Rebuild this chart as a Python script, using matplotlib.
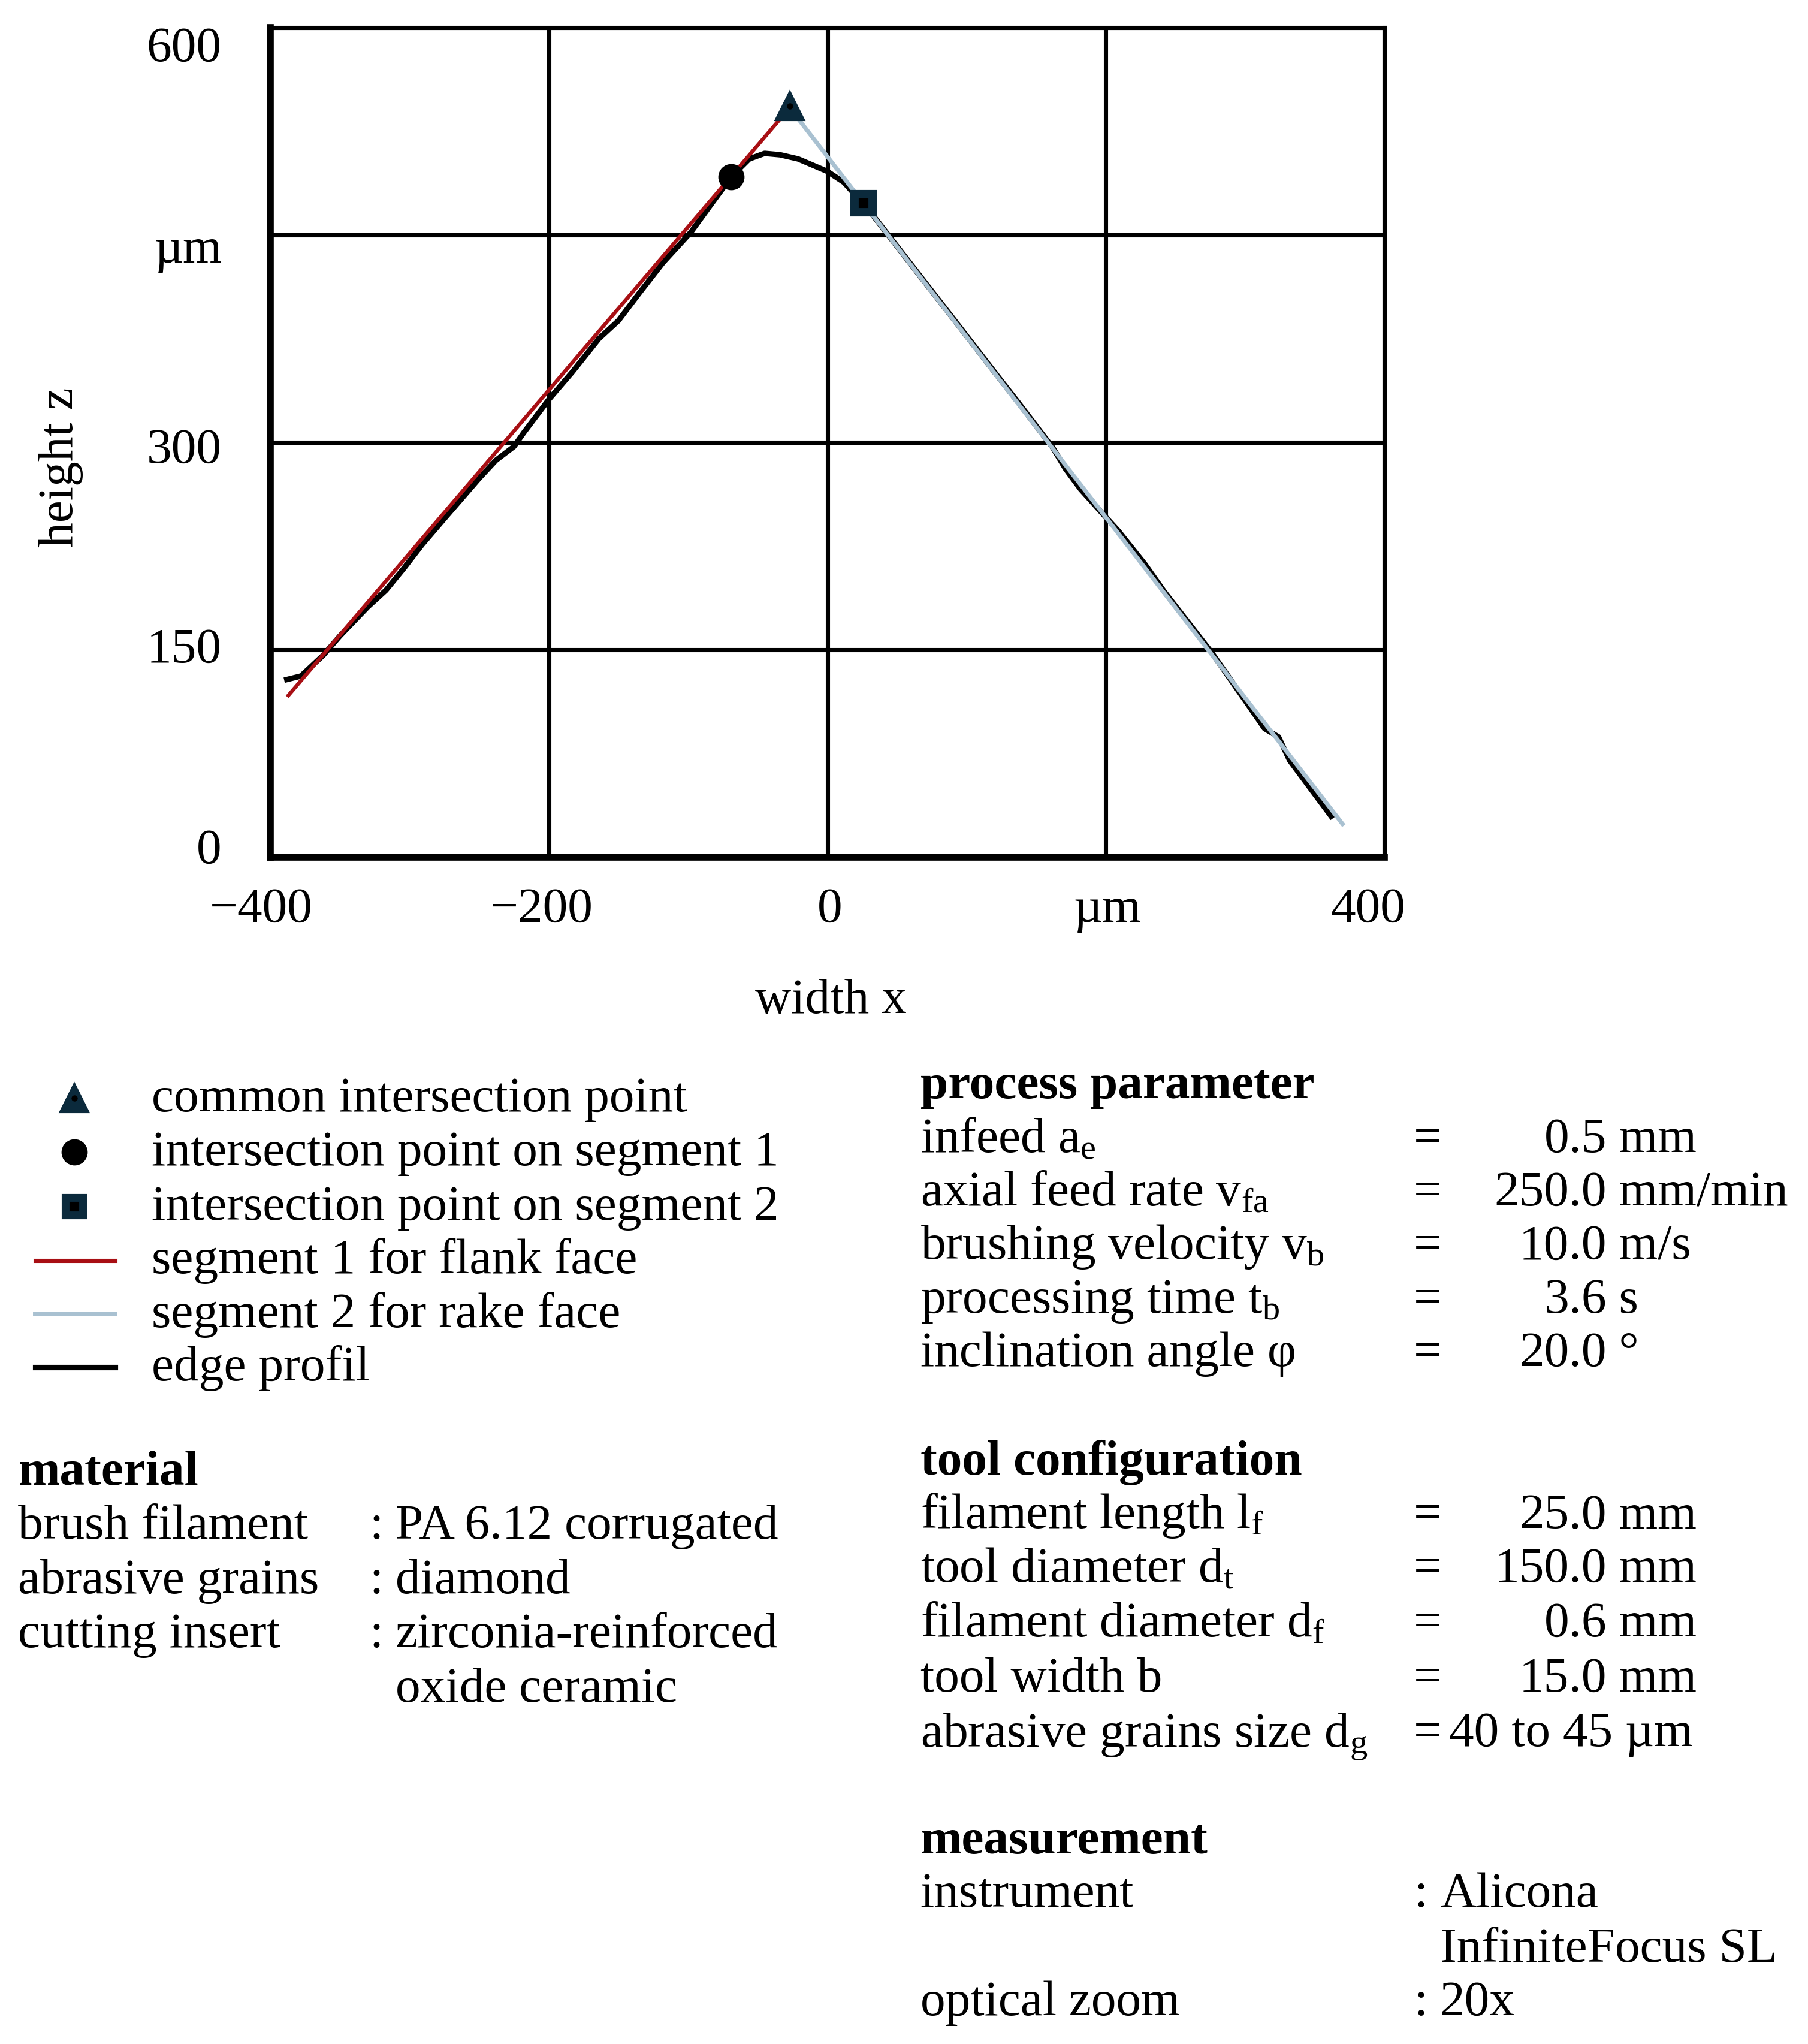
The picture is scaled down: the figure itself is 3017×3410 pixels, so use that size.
import matplotlib
matplotlib.use('Agg')
import matplotlib.pyplot as plt
from matplotlib.lines import Line2D
from matplotlib.transforms import ScaledTranslation

plt.rcParams['font.family'] = ['Liberation Serif', 'DejaVu Serif']
plt.rcParams['mathtext.fontset'] = 'custom'
plt.rcParams['mathtext.rm'] = 'Liberation Serif'
plt.rcParams['mathtext.it'] = 'Liberation Serif:italic'
plt.rcParams['mathtext.bf'] = 'Liberation Serif:bold'

# --- data ---
# edge profile (black), width x / height z in um
profile_x = [-390, -378, -362, -350, -330, -317, -304, -291, -274, -250, -238, -225,
             -218, -200, -183, -164, -150, -135, -118, -98, -85, -77, -69, -56, -45,
             -34, -21, 0, 12, 20, 26, 53, 90, 123, 137, 162, 171, 182, 199, 209, 228,
             242, 276, 301, 314, 324, 332, 346, 363]
profile_z = [128, 131, 146, 160, 181, 193, 209, 226, 246, 274, 287, 297,
             307, 331, 351, 375, 388, 408, 430, 452, 470, 481, 492, 505, 509,
             508, 505, 496, 488, 479, 473, 438, 390, 347, 329, 296, 281, 266, 247, 236, 212,
             192, 148, 112, 93, 87, 70, 51, 28]

# fitted segments
seg1_x = [-387, -27]
seg1_z = [117, 542]
seg2_x = [-27, 370]
seg2_z = [542, 24]

# intersection points
common_x, common_z = -27, 543
seg1_pt_x, seg1_pt_z = -69, 492
seg2_pt_x, seg2_pt_z = 26, 473

x_ticks = [-400, -200, 0, 200, 400]
x_ticklabels = ['\u2212400', '\u2212200', '0', '\u00b5m', '400']
y_ticks = [0, 150, 300, 450, 600]
y_ticklabels = ['0', '150', '300', '\u00b5m', '600']

legend_labels = ['common intersection point', 'intersection point on segment 1',
                 'intersection point on segment 2', 'segment 1 for flank face',
                 'segment 2 for rake face', 'edge profil']

material_names = ['brush filament', 'abrasive grains', 'cutting insert', '']
material_values = ['PA 6.12 corrugated', 'diamond', 'zirconia-reinforced', 'oxide ceramic']

process_names = [r'infeed a$_\mathregular{e}$', r'axial feed rate v$_\mathregular{fa}$',
                 r'brushing velocity v$_\mathregular{b}$', r'processing time t$_\mathregular{b}$',
                 'inclination angle \u03c6']
process_values = ['0.5 mm', '250.0 mm/min', '10.0 m/s', '3.6 s', '20.0 \u00b0']

tool_names = [r'filament length l$_\mathregular{f}$', r'tool diameter d$_\mathregular{t}$',
              r'filament diameter d$_\mathregular{f}$', 'tool width b',
              r'abrasive grains size d$_\mathregular{g}$']
tool_values = ['25.0 mm', '150.0 mm', '0.6 mm', '15.0 mm', '40 to 45 \u00b5m']

measure_names = ['instrument', '', 'optical zoom']
measure_values = ['Alicona', 'InfiniteFocus SL', '20x']

# colours
RED = '#a80f14'
BLUE = '#a9c1d1'
NAVY = '#0b2a3c'
FS = 20

fig = plt.figure(figsize=(3017 / 300, 3410 / 300), dpi=300)

# axes box in output pixels
ax = fig.add_axes([451 / 3017, 1 - 1430 / 3410, (2310 - 451) / 3017, (1430 - 46) / 3410])

ax.plot(profile_x, profile_z, color='black', lw=2.2, solid_capstyle='butt', zorder=3)
ax.plot(seg1_x, seg1_z, color=RED, lw=1.5, zorder=4)
ax.plot(seg2_x, seg2_z, color=BLUE, lw=1.7, zorder=4)
ax.plot([common_x], [common_z], marker='^', ms=11, color=NAVY, zorder=5)
ax.plot([common_x], [common_z], marker='o', ms=1.5, color='black', zorder=6)
ax.plot([seg1_pt_x], [seg1_pt_z], marker='o', ms=9.5, color='black', zorder=5)
ax.plot([seg2_pt_x], [seg2_pt_z], marker='s', ms=9.5, color=NAVY, zorder=5)
ax.plot([seg2_pt_x], [seg2_pt_z], marker='s', ms=3, color='black', zorder=6)

ax.set_xlim(-400, 400)
ax.set_ylim(0, 600)
ax.set_xticks(x_ticks)
ax.set_xticklabels(x_ticklabels)
ax.set_yticks(y_ticks)
ax.set_yticklabels(y_ticklabels)
ax.tick_params(length=0, labelsize=FS)
ax.tick_params(axis='y', pad=19.5)
ax.tick_params(axis='x', pad=12)
ax.grid(True, color='black', lw=1.7)
ax.set_axisbelow(True)
for side in ['top', 'right']:
    ax.spines[side].set_linewidth(1.7)
for side in ['left', 'bottom']:
    ax.spines[side].set_linewidth(2.8)

# small label nudges (points) as in the original layout
y_shift_down = [-4.6, -1.9, 1.2, 4.1, 6.5]
x_shift_right = [-3.6, -2.9, 1.1, 0.5, -6.5]
for lab, d in zip(ax.get_yticklabels(), y_shift_down):
    lab.set_transform(lab.get_transform() + ScaledTranslation(0, -d / 72, fig.dpi_scale_trans))
for lab, d in zip(ax.get_xticklabels(), x_shift_right):
    lab.set_transform(lab.get_transform() + ScaledTranslation(d / 72, 0, fig.dpi_scale_trans))

ax.set_ylabel('height z', fontsize=FS)
ax.yaxis.set_label_coords(-0.168, 0.47)
ax.set_xlabel('width x', fontsize=FS)
ax.xaxis.set_label_coords(0.503, -0.146)

# layout helper for the text area: reference pixels on a 1385 x 1565 grid
W_REF, H_REF = 1385.0, 1565.0
def fp(x, y):
    return x / W_REF, 1 - y / H_REF

# --- legend (drawn by hand) ---
handles = [
    [dict(marker='^', ms=11, color=NAVY, ls='none'), dict(marker='o', ms=1.5, color='black', ls='none')],
    [dict(marker='o', ms=9.5, color='black', ls='none')],
    [dict(marker='s', ms=9, color=NAVY, ls='none'), dict(marker='s', ms=3, color='black', ls='none')],
    [dict(color=RED, lw=1.7)],
    [dict(color=BLUE, lw=1.9)],
    [dict(color='black', lw=2.2)],
]
leg_y = [841, 882, 924, 965, 1006, 1047]
for hs, lab, yy in zip(handles, legend_labels, leg_y):
    x0, y0 = fp(27, yy)
    x1, _ = fp(88, yy)
    xm, _ = fp(57, yy)
    for h in hs:
        if h.get('ls') == 'none':
            fig.add_artist(Line2D([xm], [y0], **h))
        else:
            fig.add_artist(Line2D([x0, x1], [y0, y0], **h))
    fig.text(*fp(116, yy + 10), lab, fontsize=FS, va='baseline')

# --- material block ---
fig.text(*fp(14, 1127 + 10), 'material', fontsize=FS, weight='bold', va='baseline')
mat_y = [1168, 1210, 1251, 1293]
for name, val, yy in zip(material_names, material_values, mat_y):
    if name:
        fig.text(*fp(14, yy + 10), name, fontsize=FS, va='baseline')
        fig.text(*fp(283, yy + 10), ':', fontsize=FS, va='baseline')
    fig.text(*fp(303, yy + 10), val, fontsize=FS, va='baseline')

# --- parameter blocks ---
X_LAB, X_EQ, X_DEC, X_VAL = 705, 1083, 1202, 1110

def param_rows(names, values, ys):
    for name, val, yy in zip(names, values, ys):
        fig.text(*fp(X_LAB, yy + 10), name, fontsize=FS, va='baseline')
        fig.text(*fp(X_EQ, yy + 10), '=', fontsize=FS, va='baseline')
        if '.' in val:
            ip, rest = val.split('.', 1)
            fig.text(*fp(X_DEC, yy + 10), ip, fontsize=FS, va='baseline', ha='right')
            fig.text(*fp(X_DEC, yy + 10), '.' + rest, fontsize=FS, va='baseline', ha='left')
        else:
            fig.text(*fp(X_VAL, yy + 10), val, fontsize=FS, va='baseline')

fig.text(*fp(X_LAB, 831 + 10), 'process parameter', fontsize=FS, weight='bold', va='baseline')
param_rows(process_names, process_values, [872, 913, 954, 995, 1036])

fig.text(*fp(X_LAB, 1119 + 10), 'tool configuration', fontsize=FS, weight='bold', va='baseline')
param_rows(tool_names, tool_values, [1160, 1201, 1243, 1285, 1327])

fig.text(*fp(X_LAB, 1409 + 10), 'measurement', fontsize=FS, weight='bold', va='baseline')
for name, val, yy in zip(measure_names, measure_values, [1450, 1492, 1533]):
    if name:
        fig.text(*fp(X_LAB, yy + 10), name, fontsize=FS, va='baseline')
        fig.text(*fp(X_EQ, yy + 10), ':', fontsize=FS, va='baseline')
    fig.text(*fp(1103, yy + 10), val, fontsize=FS, va='baseline')

fig.savefig('out.png', dpi=300)
